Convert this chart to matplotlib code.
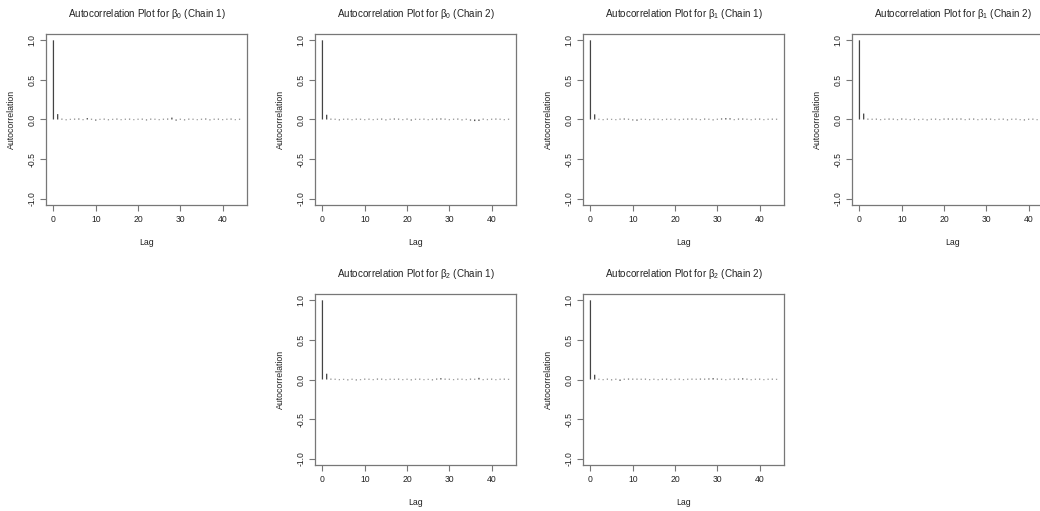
import numpy as np
import matplotlib
matplotlib.use("Agg")
import matplotlib.pyplot as plt

plt.rcParams['font.family'] = ['Liberation Sans', 'DejaVu Sans']
plt.rcParams['mathtext.fontset'] = 'custom'
plt.rcParams['mathtext.rm'] = 'Liberation Sans'
plt.rcParams['mathtext.it'] = 'Liberation Sans'
plt.rcParams['mathtext.default'] = 'rm'

lags = list(range(45))

acf_b0_c1 = [1.0, 0.068, 0.010, -0.009, 0.008, 0.010, 0.012, -0.008, 0.018, 0.009,
             -0.014, 0.008, 0.010, -0.009, 0.008, 0.011, -0.008, 0.009, 0.010, -0.008,
             0.009, 0.010, -0.011, 0.010, 0.009, -0.008, 0.009, 0.011, 0.024, -0.014,
             0.009, -0.010, 0.010, 0.009, -0.008, 0.009, 0.012, -0.010, 0.009, 0.010,
             -0.008, 0.009, 0.011, -0.008, 0.009]
acf_b0_c2 = [1.0, 0.060, 0.010, 0.009, -0.010, 0.009, 0.010, -0.008, 0.010, 0.009,
             -0.008, 0.010, -0.008, 0.009, 0.011, -0.010, 0.009, 0.012, 0.010, -0.008,
             0.011, -0.013, 0.009, 0.008, 0.010, -0.008, 0.009, 0.011, 0.013, 0.010,
             -0.008, 0.009, 0.011, -0.010, 0.009, -0.013, -0.020, -0.018, 0.010, -0.008,
             0.009, 0.011, 0.009, -0.008, 0.009]
acf_b1_c1 = [1.0, 0.065, 0.009, -0.008, 0.010, 0.008, -0.008, 0.010, 0.012, 0.009,
             -0.011, -0.015, 0.009, 0.008, -0.008, 0.010, 0.009, -0.008, 0.009, 0.008,
             0.010, -0.008, 0.009, 0.011, 0.012, 0.010, -0.008, 0.011, 0.009, -0.010,
             0.009, 0.013, 0.017, 0.015, -0.008, 0.011, 0.012, 0.009, -0.008, 0.010,
             0.011, -0.008, 0.009, 0.010, 0.009]
acf_b1_c2 = [1.0, 0.075, 0.010, 0.009, 0.010, -0.008, 0.009, 0.011, 0.010, -0.008,
             0.012, 0.009, -0.008, 0.010, -0.008, 0.009, -0.010, 0.009, 0.010, -0.008,
             0.011, 0.012, 0.010, 0.011, 0.012, -0.008, 0.010, 0.011, -0.008, 0.009,
             0.011, 0.010, -0.008, 0.009, 0.010, -0.010, 0.009, 0.010, -0.008, -0.011,
             0.009, 0.010, -0.008, 0.010, 0.009]
acf_b2_c1 = [1.0, 0.073, 0.010, 0.009, -0.008, 0.008, -0.010, 0.009, -0.011, -0.008,
             0.010, 0.009, -0.008, 0.011, 0.010, -0.008, 0.009, 0.008, 0.010, -0.008,
             0.009, -0.010, 0.009, 0.010, -0.008, 0.008, -0.010, 0.011, 0.017, 0.010,
             0.009, -0.008, 0.010, 0.009, -0.008, 0.010, 0.009, 0.021, -0.008, 0.009,
             0.010, -0.008, 0.009, 0.010, 0.008]
acf_b2_c2 = [1.0, 0.060, 0.009, -0.008, 0.010, -0.010, 0.009, -0.017, 0.009, 0.011,
             0.010, 0.010, 0.009, 0.010, -0.008, 0.009, -0.008, 0.009, 0.010, -0.008,
             0.009, 0.010, -0.008, 0.009, 0.010, 0.009, 0.011, 0.010, 0.013, 0.017,
             0.011, 0.009, -0.008, 0.009, 0.011, 0.010, 0.015, 0.010, -0.008, 0.009,
             0.010, -0.008, 0.009, 0.010, 0.008]

titles = [r"Autocorrelation Plot for β$_{0}$ (Chain 1)",
          r"Autocorrelation Plot for β$_{0}$ (Chain 2)",
          r"Autocorrelation Plot for β$_{1}$ (Chain 1)",
          r"Autocorrelation Plot for β$_{1}$ (Chain 2)",
          r"Autocorrelation Plot for β$_{2}$ (Chain 1)",
          r"Autocorrelation Plot for β$_{2}$ (Chain 2)"]
series = [acf_b0_c1, acf_b0_c2, acf_b1_c1, acf_b1_c2, acf_b2_c1, acf_b2_c2]
xticks = [0, 10, 20, 30, 40]
yticks = [-1.0, -0.5, 0.0, 0.5, 1.0]
ytick_labels = ["-1.0", "-0.5", "0.0", "0.5", "1.0"]

W, H = 1040, 511
fig = plt.figure(figsize=(W / 100, H / 100), dpi=100)

# (left px, top px) of each plot box
box_w, box_h = 201, 171
positions = [(46, 34), (315, 34), (583, 34), (852, 34), (315, 294), (583, 294)]

line_col = '#444444'
frame_col = '#777777'
text_col = '#222222'

for (lx, ty), title, vals in zip(positions, titles, series):
    ax = fig.add_axes([lx / W, 1 - (ty + box_h) / H, box_w / W, box_h / H])
    ax.vlines(lags, 0, vals, colors=line_col, linewidth=0.9, snap=False)
    ax.set_xlim(-1.76, 45.76)
    ax.set_ylim(-1.08, 1.08)
    ax.set_xticks(xticks)
    ax.set_yticks(yticks)
    ax.set_yticklabels(ytick_labels, rotation=90, va='center')
    ax.tick_params(axis='both', length=4, width=0.8, color=frame_col,
                   labelsize=6.2, labelcolor=text_col, pad=3)
    for s in ax.spines.values():
        s.set_color(frame_col)
        s.set_linewidth(0.9)
    ax.set_title(title, fontsize=7.1, color=text_col, pad=12)
    ax.set_xlabel("Lag", fontsize=6.3, color=text_col, labelpad=10)
    ax.set_ylabel("Autocorrelation", fontsize=6.3, color=text_col, labelpad=8)

fig.savefig("out.png", dpi=100)
